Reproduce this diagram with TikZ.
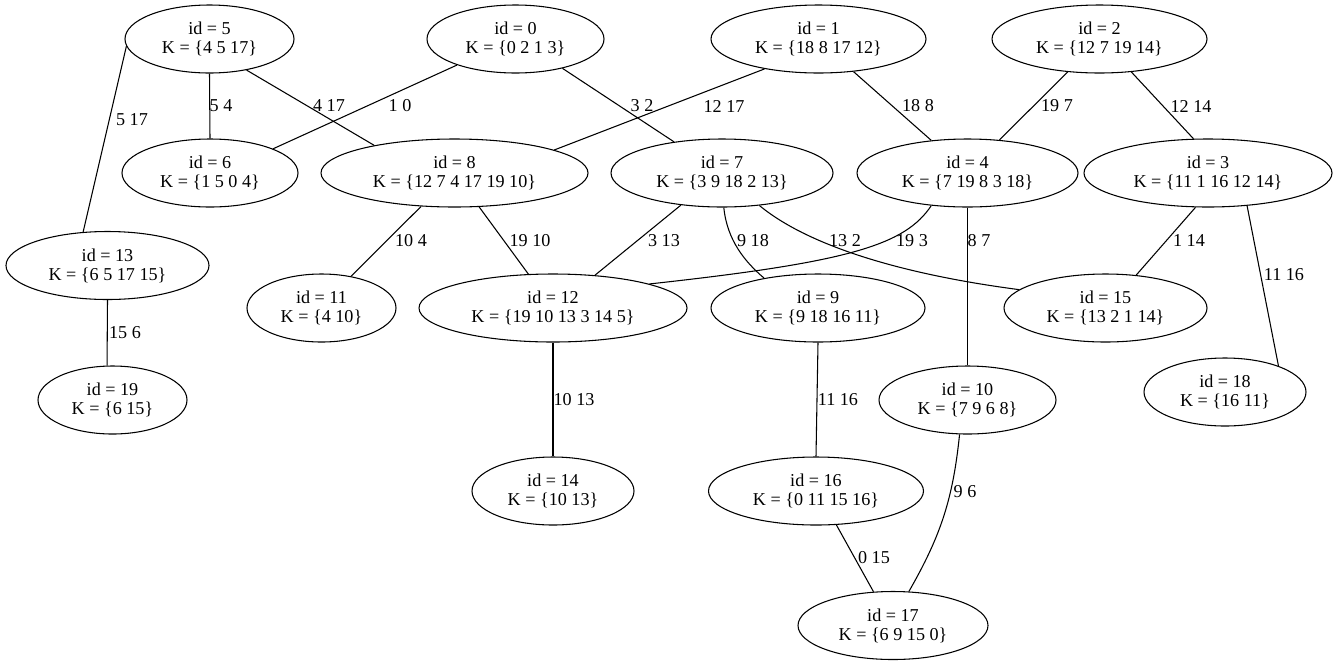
\documentclass[tikz,border=0pt]{standalone}
\usepackage{fontspec}
\setmainfont{Liberation Serif}
\usetikzlibrary{shapes.geometric}

\begin{document}
\begin{tikzpicture}[x=0.75pt,y=-0.75pt,line width=0.8pt,
  kset/.style={draw,ellipse,inner sep=0pt,minimum height=51pt,minimum width={#1*1.5pt},align=center,font=\fontsize{13.6pt}{14.3pt}\selectfont},
  elbl/.style={inner sep=0pt,font=\fontsize{13.6pt}{14.3pt}\selectfont}]
  \useasboundingbox (0,0) rectangle (1338,665);
  % top row
  \node[kset=84.5] (n5) at (209.5,39) {id = 5\\K = \{4 5 17\}};
  \node[kset=88.5] (n0) at (515.5,39) {id = 0\\K = \{0 2 1 3\}};
  \node[kset=107.5] (n1) at (818.5,39) {id = 1\\K = \{18 8 17 12\}};
  \node[kset=107.5] (n2) at (1099.5,39) {id = 2\\K = \{12 7 19 14\}};
  % second row
  \node[kset=88] (n6) at (210,173) {id = 6\\K = \{1 5 0 4\}};
  \node[kset=133.5] (n8) at (454.5,173) {id = 8\\K = \{12 7 4 17 19 10\}};
  \node[kset=111] (n7) at (722,173) {id = 7\\K = \{3 9 18 2 13\}};
  \node[kset=110.5] (n4) at (967.5,173) {id = 4\\K = \{7 19 8 3 18\}};
  \node[kset=124] (n3) at (1208,173) {id = 3\\K = \{11 1 16 12 14\}};
  % third row
  \node[kset=101.5] (n13) at (107.5,265.5) {id = 13\\K = \{6 5 17 15\}};
  \node[kset=74.5] (n11) at (321.5,308) {id = 11\\K = \{4 10\}};
  \node[kset=134] (n12) at (553,308) {id = 12\\K = \{19 10 13 3 14 5\}};
  \node[kset=107] (n9) at (818,308) {id = 9\\K = \{9 18 16 11\}};
  \node[kset=101.5] (n15) at (1105.5,308) {id = 15\\K = \{13 2 1 14\}};
  % lower rows
  \node[kset=74.5] (n19) at (112.5,400) {id = 19\\K = \{6 15\}};
  \node[kset=88.5] (n10) at (967.5,400) {id = 10\\K = \{7 9 6 8\}};
  \node[kset=81] (n18) at (1225,392) {id = 18\\K = \{16 11\}};
  \node[kset=81] (n14) at (553,491) {id = 14\\K = \{10 13\}};
  \node[kset=107.5] (n16) at (816,491) {id = 16\\K = \{0 11 15 16\}};
  \node[kset=95] (n17) at (893,625.5) {id = 17\\K = \{6 9 15 0\}};
  % edges
  \draw (n5.185) -- (n13.126) node[elbl,at={(132,120)}] {5 17};
  \draw (n5.270) -- (n6.90) node[elbl,at={(221,106)}] {5 4};
  \draw (n5.320) -- (n8.161) node[elbl,at={(329,106)}] {4 17};
  \draw (n0.204) -- (n6.21) node[elbl,at={(400,106)}] {1 0};
  \draw (n0.328) -- (n7.147) node[elbl,at={(642,106)}] {3 2};
  \draw (n1.209) -- (n8.13) node[elbl,at={(724,106)}] {12 17};
  \draw (n1.317) -- (n4.138) node[elbl,at={(918,106)}] {18 8};
  \draw (n2.226) -- (n4.46) node[elbl,at={(1057,106)}] {19 7};
  \draw (n2.314) -- (n3.113) node[elbl,at={(1191,106)}] {12 14};
  \draw (n8.225) -- (n11.47) node[elbl,at={(411,241)}] {10 4};
  \draw (n8.306) -- (n12.126) node[elbl,at={(530,241)}] {19 10};
  \draw (n7.218) -- (n12.38) node[elbl,at={(664,241)}] {3 13};
  \draw (n7.273) .. controls (727,240) and (745,262) .. (n9.151) node[elbl,at={(753,241)}] {9 18};
  \draw (n7.319) .. controls (795,235) and (870,270) .. (n15.168) node[elbl,at={(845,241)}] {13 2};
  \draw (n4.222) .. controls (905,245) and (850,262) .. (n12.14) node[elbl,at={(912,241)}] {19 3};
  \draw (n4.270) -- (n10.90) node[elbl,at={(979,241)}] {8 7};
  \draw (n3.250) -- (n15.47) node[elbl,at={(1189,241)}] {1 14};
  \draw (n3.320) -- (n18.26) node[elbl,at={(1284,275)}] {11 16};
  \draw (n13.270) -- (n19.99) node[elbl,at={(125,333)}] {15 6};
  \draw (n12.270) -- (n14.90) node[elbl,at={(574,400)}] {10 13};
  \draw (n9.270) -- (n16.90) node[elbl,at={(838,400)}] {11 16};
  \draw (n10.257) to[bend left=12] (n17.65) node[elbl,at={(965,492)}] {9 6};
  \draw (n16.301) -- (n17.120) node[elbl,at={(874,558)}] {0 15};
\end{tikzpicture}
\end{document}
